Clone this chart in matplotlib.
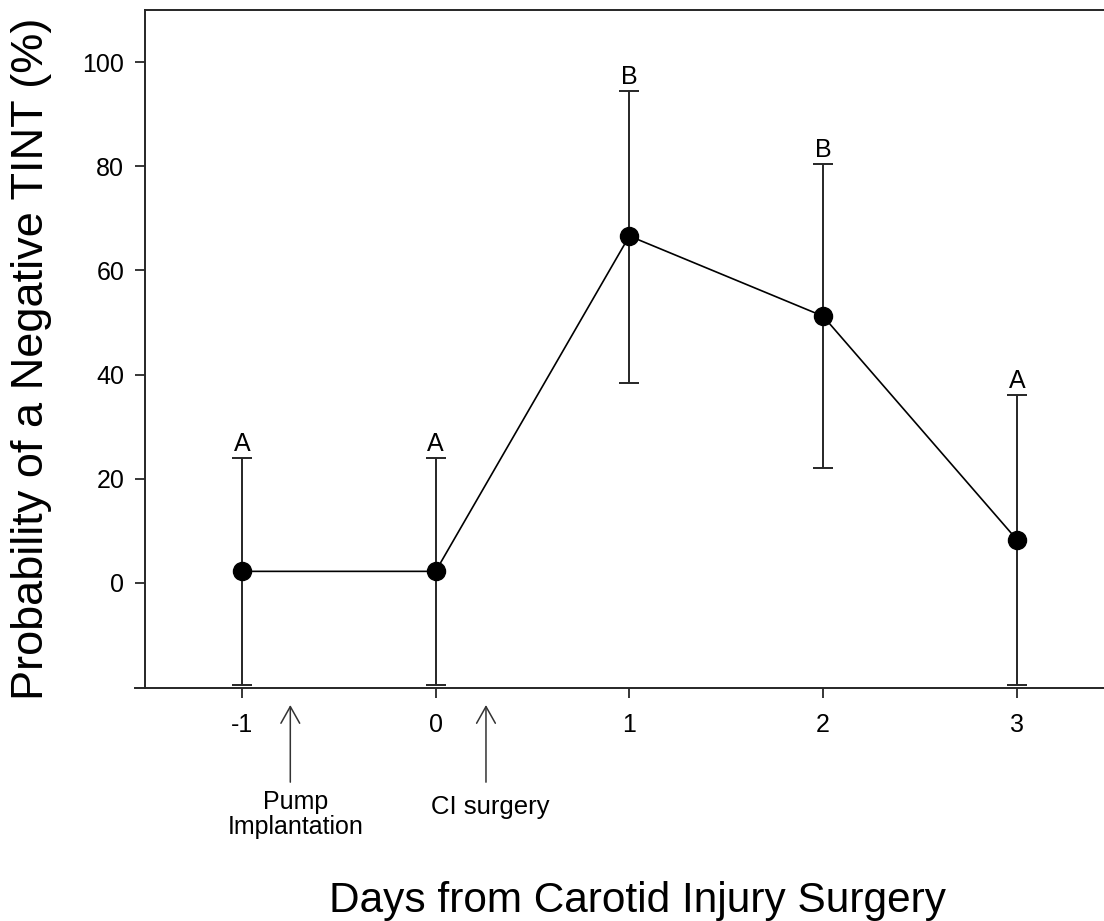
import matplotlib
matplotlib.use("Agg")
import matplotlib.pyplot as plt
import matplotlib.transforms as mtransforms

plt.rcParams['font.family'] = ['Liberation Sans', 'DejaVu Sans']

# data
days = [-1, 0, 1, 2, 3]
prob = [2.2, 2.2, 66.6, 51.2, 8.3]
upper = [24.0, 24.0, 94.4, 80.4, 36.0]
lower = [-19.7, -19.7, 38.4, 22.1, -19.7]
letters = ['A', 'A', 'B', 'B', 'A']
y_ticks = [0, 20, 40, 60, 80, 100]
events = ['Pump\nImplantation', 'CI surgery']
event_days = [-0.75, 0.26]

line_col = '#262626'

fig = plt.figure(figsize=(11.04, 9.21), dpi=100)
ax = fig.add_axes([145 / 1104, 1 - 688 / 921, 959 / 1104, 678 / 921])

err = [[p - lo for p, lo in zip(prob, lower)],
       [up - p for p, up in zip(prob, upper)]]
ax.errorbar(days, prob, yerr=err, fmt='none', ecolor=line_col,
            elinewidth=1.4, capsize=7.5, capthick=1.4, zorder=2)
ax.plot(days, prob, color='black', lw=1.2, marker='o', markersize=13,
        markerfacecolor='black', markeredgecolor='black', zorder=3)

for d, up, s in zip(days, upper, letters):
    ax.annotate(s, xy=(d, up), xytext=(0, 5), textcoords='offset points',
                ha='center', va='baseline', fontsize=18)

ax.set_xlim(-1.5, 3.45)
ax.set_ylim(-20.2, 110)
ax.set_xticks(days)
ax.set_xticklabels([str(d) for d in days])
ax.set_yticks(y_ticks)

for side in ['left', 'bottom', 'top']:
    ax.spines[side].set_color(line_col)
    ax.spines[side].set_linewidth(1.4)
ax.spines['right'].set_visible(False)
# bottom line sticks out a little to the left of the y axis
ax.plot([-10 / 959, 0], [0, 0], transform=ax.transAxes, color=line_col,
        lw=1.4, clip_on=False)

ax.tick_params(axis='both', direction='out', length=7, width=1.3,
               color=line_col, labelsize=18)
ax.tick_params(axis='y', pad=8)
ax.tick_params(axis='x', pad=11)

ax.set_ylabel('Probability of a Negative TINT (%)', fontsize=32.5,
              va='baseline')
ax.yaxis.set_label_coords(-0.106, 0.485)
ax.set_xlabel('Days from Carotid Injury Surgery', fontsize=30.5,
              va='baseline')
ax.xaxis.set_label_coords(0.514, -0.330)

# event arrows under the axis
trans = mtransforms.blended_transform_factory(ax.transData, ax.transAxes)
for d, name in zip(event_days, events):
    ax.annotate('', xy=(d, -0.021), xytext=(d, -0.143),
                xycoords=trans, textcoords=trans,
                arrowprops=dict(arrowstyle='->,head_length=0.8,head_width=0.45',
                                mutation_scale=15, lw=1.1, color='#333333'),
                annotation_clip=False)
ax.text(event_days[0] + 0.03, -0.150, events[0], transform=trans,
        ha='center', va='top', fontsize=18, linespacing=1.05)
ax.text(event_days[1] + 0.02, -0.176, events[1], transform=trans,
        ha='center', va='center', fontsize=18.5)

fig.savefig('out.png', dpi=100)
